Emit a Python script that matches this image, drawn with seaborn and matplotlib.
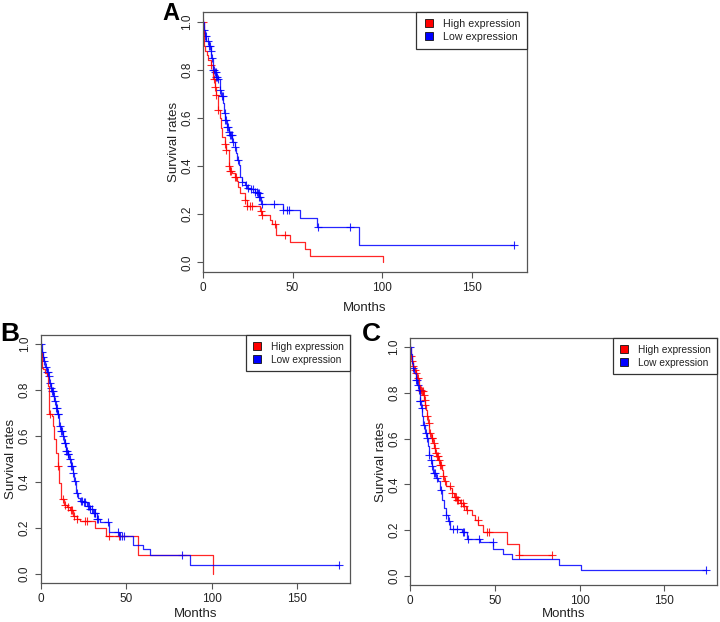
import numpy as np
import pandas as pd
import matplotlib
matplotlib.use("Agg")
import matplotlib.pyplot as plt
from matplotlib.lines import Line2D
import seaborn as sns

sns.set_theme(style="white")
plt.rcParams["font.family"] = ["Liberation Sans", "DejaVu Sans"]

# ---------------- data ----------------
# Panel A
a_high_t = [0, 0.3, 1, 2, 3, 4.5, 5.5, 6.5, 7.5, 8.4, 9.3, 10, 10.6, 12, 13, 14.4, 15, 16, 17.7, 19,
            19.6, 20.5, 23.3, 24.8, 31.6, 33.1, 37.2, 38.7, 40.5, 48.7, 56.7, 59.5, 100.3]
a_high_s = [1.0, 0.90, 0.88, 0.86, 0.84, 0.82, 0.76, 0.73, 0.695, 0.633, 0.598, 0.56, 0.52, 0.49, 0.467,
            0.40, 0.38, 0.37, 0.356, 0.34, 0.314, 0.287, 0.26, 0.235, 0.215, 0.197, 0.176, 0.159, 0.112,
            0.086, 0.055, 0.028, 0.0]
a_high_cens = [0.1, 4.5, 6, 6.5, 7.5, 8.4, 12, 13, 14.4, 15, 15.5, 17.7, 18.5, 23.3, 24.8, 26, 27.5,
               32.2, 33.1, 40.3, 45.9]
a_low_t = [0, 0.4, 0.9, 1.9, 3.4, 4.3, 4.7, 5.6, 6.3, 7.1, 8.4, 9.3, 10.3, 11.2, 11.6, 12.3, 13.4, 14.4,
           15, 16.4, 17.7, 18.3, 19, 20.1, 20.9, 22, 23.3, 24.3, 26, 28.9, 30.2, 31.3, 32.1, 32.6, 44.6,
           53.9, 63.8, 87, 173.7]
a_low_s = [1.0, 0.965, 0.94, 0.92, 0.90, 0.88, 0.85, 0.80, 0.79, 0.77, 0.76, 0.716, 0.69, 0.66, 0.62,
           0.59, 0.564, 0.543, 0.53, 0.50, 0.48, 0.453, 0.425, 0.404, 0.356, 0.335, 0.32, 0.31, 0.305,
           0.294, 0.287, 0.273, 0.252, 0.242, 0.217, 0.183, 0.145, 0.073, 0.073]
a_low_cens = [0.5, 1, 1.5, 2.5, 3.5, 4, 4.5, 5, 5.6, 6, 6.5, 7, 7.5, 8, 8.5, 9.5, 10.5, 11, 12, 12.5,
              13, 13.5, 14, 14.5, 15, 15.5, 16, 17, 18, 19.5, 22, 24, 25, 27, 28, 29, 30, 30.5, 31,
              31.5, 32, 32.9, 39.4, 44.9, 46.8, 48.3, 64.5, 82.3, 173.7]

# Panel B
b_high_t = [0, 0.3, 0.6, 1.6, 2.5, 3.5, 4.5, 5.1, 6.4, 7, 8, 9, 10.2, 10.9, 11.9, 13.9, 15.2, 17.2,
            19.1, 21.1, 23, 31.8, 38.3, 57.2, 101.1]
b_high_s = [1.0, 0.96, 0.896, 0.89, 0.874, 0.86, 0.816, 0.694, 0.686, 0.643, 0.585, 0.527, 0.47,
            0.397, 0.325, 0.30, 0.293, 0.28, 0.253, 0.238, 0.231, 0.198, 0.166, 0.082, 0.0]
b_high_cens = [5.5, 10.4, 13, 14.5, 16, 17.5, 18.5, 19.5, 21.5, 26, 27, 40, 46]
b_low_t = [0, 0.6, 1.2, 2, 2.5, 3.5, 4.5, 5.1, 5.9, 6.4, 7.4, 8, 8.8, 9.8, 10.5, 10.9, 11.9, 12.9,
           13.9, 14.6, 15.8, 16.8, 17.8, 18.8, 19.5, 20.7, 22.1, 23, 24.9, 26.9, 28.8, 30.8, 32.8,
           34.7, 40.2, 46, 54.3, 59.8, 64, 87.5, 174.4]
b_low_s = [1.0, 0.968, 0.946, 0.925, 0.90, 0.88, 0.86, 0.83, 0.81, 0.795, 0.773, 0.751, 0.723, 0.694,
           0.672, 0.643, 0.621, 0.60, 0.571, 0.535, 0.52, 0.498, 0.47, 0.44, 0.405, 0.354, 0.332,
           0.318, 0.311, 0.296, 0.282, 0.267, 0.238, 0.224, 0.18, 0.166, 0.126, 0.108, 0.082, 0.04,
           0.04]
b_low_cens = [0.1, 1, 1.5, 2.2, 3, 3.8, 4.2, 5, 5.5, 6, 6.8, 7, 7.8, 8.2, 9, 9.5, 10, 10.2, 11.2, 12,
              12.5, 13.2, 14, 14.2, 15, 15.2, 16, 16.2, 17, 18, 18.5, 19, 20, 21.5, 23.5, 24, 25.5,
              26, 27.5, 28, 29, 30, 31, 31.5, 32, 33, 33.5, 39.6, 45.4, 46.5, 47.5, 48.5, 82.8, 174.4]

# Panel C
c_high_t = [0, 0.4, 1, 1.6, 2.6, 3.5, 4.3, 5.5, 5.9, 6.9, 7.9, 8.5, 8.9, 9.3, 9.8, 10.8, 11.4, 12.4,
            13.4, 14.2, 15, 15.7, 16.7, 17.7, 18.7, 19.3, 20.1, 21.1, 23.6, 24.6, 26, 27.6, 29.5,
            31.5, 33.1, 36.4, 38.4, 40.4, 43.3, 57.1, 64, 83.7]
c_high_s = [1.0, 0.96, 0.94, 0.917, 0.90, 0.888, 0.866, 0.836, 0.815, 0.807, 0.793, 0.771, 0.749,
            0.727, 0.698, 0.669, 0.625, 0.603, 0.58, 0.559, 0.537, 0.523, 0.508, 0.486, 0.464, 0.435,
            0.413, 0.391, 0.384, 0.362, 0.347, 0.333, 0.318, 0.304, 0.289, 0.267, 0.245, 0.223, 0.19,
            0.14, 0.093, 0.093]
c_high_cens = [0.5, 1.2, 2, 3, 3.8, 4.8, 6.2, 6.6, 7, 7.5, 8.2, 8.6, 9.1, 10.2, 11, 11.8, 12.8, 13.2,
               14, 14.6, 15.3, 16, 16.3, 17, 18, 18.2, 19.5, 20.5, 23.5, 25, 26.5, 27, 28, 28.5, 30,
               31, 32, 33.5, 40, 45.5, 46.5, 64.5, 83.7]
c_low_t = [0, 0.4, 1, 1.6, 2.6, 3.5, 4.3, 5.1, 5.9, 6.5, 7.3, 7.9, 9.1, 9.8, 10.6, 11.2, 12.2, 12.8,
           13.8, 15.4, 16.7, 17.7, 18.7, 20.1, 21.3, 22.2, 23.6, 30.5, 33.5, 41, 49.2, 54.6, 60, 87.6,
           101, 174.6]
c_low_s = [1.0, 0.97, 0.93, 0.91, 0.887, 0.858, 0.836, 0.815, 0.764, 0.734, 0.698, 0.661, 0.625,
           0.603, 0.566, 0.53, 0.508, 0.479, 0.45, 0.428, 0.413, 0.377, 0.333, 0.296, 0.267, 0.241,
           0.204, 0.19, 0.16, 0.146, 0.118, 0.095, 0.073, 0.048, 0.026, 0.026]
c_low_cens = [0.1, 2, 3.5, 4, 4.5, 5.5, 6, 6.2, 7, 8.5, 9.5, 10, 11.5, 12.5, 13, 14, 14.5, 16, 18.5,
              21.5, 23, 25.5, 27.5, 31, 32, 34, 40.5, 49, 174.6]

x_ticks = [0, 50, 100, 150]
y_ticks = [0.0, 0.2, 0.4, 0.6, 0.8, 1.0]
y_tick_labels = ["0.0", "0.2", "0.4", "0.6", "0.8", "1.0"]
groups = ["High expression", "Low expression"]
group_colors = {"High expression": "#ff0000", "Low expression": "#0000ff"}

TXT = "#222222"
SPINE = "#555555"


def step_value(t_arr, s_arr, t):
    t_arr = np.asarray(t_arr)
    idx = np.searchsorted(t_arr, t, side="right") - 1
    return np.asarray(s_arr)[np.clip(idx, 0, len(s_arr) - 1)]


def draw_panel(ax, curves, legend_fs, xlabelpad, ylabelpad):
    for grp, (tt, ss, cens) in zip(groups, curves):
        col = group_colors[grp]
        df = pd.DataFrame({"t": tt, "s": ss})
        sns.lineplot(data=df, x="t", y="s", ax=ax, color=col, lw=0.9, alpha=0.85,
                     drawstyle="steps-post", estimator=None, sort=False)
        cdf = pd.DataFrame({"t": cens, "s": step_value(tt, ss, np.asarray(cens))})
        sns.scatterplot(data=cdf, x="t", y="s", ax=ax, marker="+", color=col, s=26,
                        linewidth=0.8, alpha=0.85)
    ax.set_xlim(0, 181)
    ax.set_ylim(-0.04, 1.04)
    ax.set_xticks(x_ticks)
    ax.set_xticklabels([str(v) for v in x_ticks])
    ax.set_yticks(y_ticks)
    ax.set_yticklabels(y_tick_labels, rotation=90, va="center")
    ax.tick_params(axis="both", direction="out", length=4, width=0.8, color=SPINE,
                   labelsize=8.5, labelcolor=TXT, pad=3, bottom=True, left=True)
    for sp in ax.spines.values():
        sp.set_color(SPINE)
        sp.set_linewidth(0.9)
    ax.set_xlabel("Months", fontsize=9.5, color=TXT, labelpad=xlabelpad)
    ax.set_ylabel("Survival rates", fontsize=9.5, color=TXT, labelpad=ylabelpad)
    handles = [Line2D([], [], ls="none", marker="s", markersize=5.5, markerfacecolor=group_colors[g],
                      markeredgecolor="#111111", markeredgewidth=0.6) for g in groups]
    leg = ax.legend(handles, groups, loc="upper right", borderaxespad=0, fancybox=False,
                    frameon=True, fontsize=legend_fs, handlelength=1.0, handletextpad=0.8,
                    borderpad=0.65, labelspacing=0.3, framealpha=1)
    leg.get_frame().set_edgecolor("#333333")
    leg.get_frame().set_linewidth(0.9)
    for t in leg.get_texts():
        t.set_color(TXT)


fig = plt.figure(figsize=(7.2, 6.22), dpi=100)
axA = fig.add_axes([0.282, 0.5627, 0.450, 0.418])
axB = fig.add_axes([0.0565, 0.0627, 0.4296, 0.3987])
axC = fig.add_axes([0.5694, 0.0595, 0.4264, 0.397])

draw_panel(axA, [(a_high_t, a_high_s, a_high_cens), (a_low_t, a_low_s, a_low_cens)], 7.7, 6, 1)
draw_panel(axB, [(b_high_t, b_high_s, b_high_cens), (b_low_t, b_low_s, b_low_cens)], 7.3, 2, 1.5)
draw_panel(axC, [(c_high_t, c_high_s, c_high_cens), (c_low_t, c_low_s, c_low_cens)], 7.3, 1, 1)

fig.text(0.225, 0.968, "A", fontsize=17, fontweight="bold", color="black", ha="left", va="baseline")
fig.text(0.0, 0.451, "B", fontsize=19, fontweight="bold", color="black", ha="left", va="baseline")
fig.text(0.503, 0.451, "C", fontsize=19, fontweight="bold", color="black", ha="left", va="baseline")

fig.savefig("out.png", dpi=100)
